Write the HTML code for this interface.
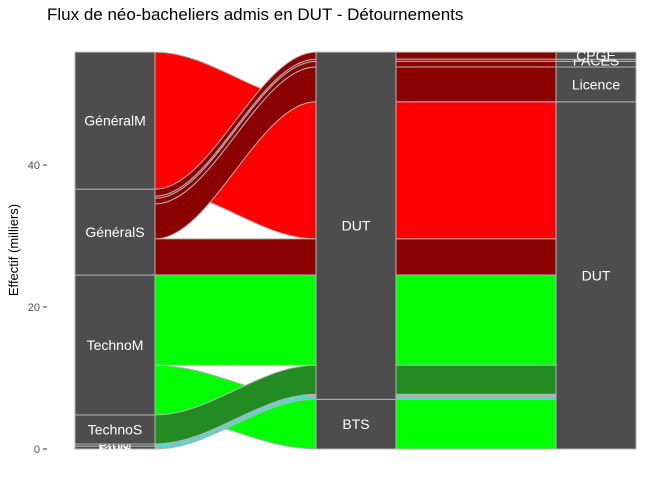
<!DOCTYPE html>
<html><head><meta charset="utf-8"><style>
body{margin:0;background:#fff;}
svg{display:block;font-family:"Liberation Sans",sans-serif;}
</style></head><body>
<svg id="chart" width="672" height="480">
<text x="47" y="20" font-size="17" fill="#000">Flux de néo-bacheliers admis en DUT - Détournements</text>
<text transform="translate(18,250) rotate(-90)" text-anchor="middle" font-size="13" fill="#000">Effectif (milliers)</text>
<g id="yaxis"></g>
<g id="flows"></g>
<g id="strata"></g>
</svg>
<script>
const axis1Strata = ["ProS","ProM","TechnoS","TechnoM","GénéralS","GénéralM"];
const axis2Strata = ["BTS","DUT"];
const axis3Strata = ["DUT","Licence","Autre","PACES","CPGE"];
const axis3Labels = ["DUT","Licence","","PACES","CPGE"];
const flowOrigin = ["GénéralM","GénéralS","GénéralS","GénéralS","GénéralS","GénéralS","TechnoM","TechnoM","TechnoS","ProM","ProS"];
const flowMid    = ["DUT","DUT","DUT","DUT","DUT","DUT","DUT","BTS","DUT","DUT","DUT"];
const flowDest   = ["DUT","CPGE","PACES","Autre","Licence","DUT","DUT","DUT","DUT","DUT","DUT"];
const flowValue  = [19.3,1.0,0.3,0.8,4.9,5.1,12.7,7.0,4.1,0.3,0.4];
const originColors = {"GénéralM":"#ff0000","GénéralS":"#8b0000","TechnoM":"#00ff00","TechnoS":"#228b22","ProM":"#40e0d0","ProS":"#40e0d0"};
const yTicks = [0,20,40];

const NS="http://www.w3.org/2000/svg";
const y0=449, pxPer=7.1;
const yScale=v=>y0-v*pxPer;
const axX=[[75,155],[316,396],[556,636]];
const orders=[axis1Strata,axis2Strata,axis3Strata];
function mk(tag,attrs,parent){const e=document.createElementNS(NS,tag);for(const k in attrs)e.setAttribute(k,attrs[k]);parent.appendChild(e);return e;}

const ya=document.getElementById('yaxis');
yTicks.forEach(t=>{
  const y=yScale(t);
  const l=mk('line',{x1:43,x2:47,y1:y,y2:y,stroke:'#333','stroke-width':1},ya);
  
  
  const tx=mk('text',{x:40,y:y+4,'text-anchor':'end','font-size':11,fill:'#4d4d4d'},ya);
  tx.textContent=t;
  
  
});

const n=flowValue.length;
const S=[flowOrigin,flowMid,flowDest];
function stack(ax,keys){
  const idx=[...Array(n).keys()];
  idx.sort((a,b)=>{for(const k of keys){const d=orders[k].indexOf(S[k][a])-orders[k].indexOf(S[k][b]);if(d)return d;}return 0;});
  const pos=new Array(n);let c=0;
  idx.forEach(i=>{pos[i]=[c,c+flowValue[i]];c+=flowValue[i];});
  return pos;
}
const P=[stack(0,[0,1,2]),stack(1,[1,2,0]),stack(2,[2,1,0])];

const fg=document.getElementById('flows');
const drawOrder=[0,6,7,1,2,3,4,5,8,9,10];
function band(xa,xb,pa,pb){
  const ya1=yScale(pa[1]),ya0=yScale(pa[0]),yb1=yScale(pb[1]),yb0=yScale(pb[0]);
  const c1=xa+(xb-xa)*0.35,c2=xa+(xb-xa)*0.65;
  return `M${xa},${ya1} C${c1},${ya1} ${c2},${yb1} ${xb},${yb1} L${xb},${yb0} C${c2},${yb0} ${c1},${ya0} ${xa},${ya0} Z`;
}
drawOrder.forEach(i=>{
  const col=originColors[flowOrigin[i]];
  for(let s=0;s<2;s++){
    const p=mk('path',{d:band(axX[s][1],axX[s+1][0],P[s][i],P[s+1][i]),fill:col,stroke:'#b3b3b3','stroke-width':1},fg);
    
    
  }
});

const sg=document.getElementById('strata');
[0,1,2].forEach(ax=>{
  let c=0;
  orders[ax].forEach((s,j)=>{
    let tot=0;for(let i=0;i<n;i++)if(S[ax][i]===s)tot+=flowValue[i];
    const yt=yScale(c+tot),yb=yScale(c);
    const r=mk('rect',{x:axX[ax][0],y:yt,width:axX[ax][1]-axX[ax][0],height:yb-yt,fill:'#4d4d4d',stroke:'#b3b3b3','stroke-width':1},sg);
    
    
    const lab=ax===2?axis3Labels[j]:s;
    if(lab){
      const t=mk('text',{x:(axX[ax][0]+axX[ax][1])/2,y:(yt+yb)/2+5,'text-anchor':'middle','font-size':14,fill:'#fff'},sg);
      t.textContent=lab;
      
      
    }
    c+=tot;
  });
});
</script>
</body></html>
